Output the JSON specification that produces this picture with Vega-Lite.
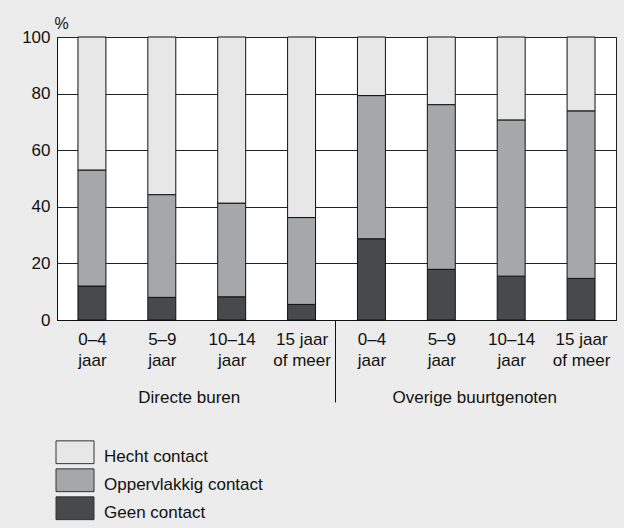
{
  "$schema": "https://vega.github.io/schema/vega-lite/v6.json",
  "width": 559,
  "height": 283,
  "autosize": "none",
  "padding": {"left": 57, "top": 37, "right": 8, "bottom": 208},
  "background": "#ebeceb",
  "config": {
    "font": "Liberation Sans",
    "view": {"fill": "white", "stroke": "#222", "strokeWidth": 1},
    "axis": {"labelFont": "Liberation Sans", "labelFontSize": 17, "labelColor": "#111", "titleFont": "Liberation Sans", "titleColor": "#111", "domainColor": "#111", "domainWidth": 1},
    "legend": {"labelFont": "Liberation Sans", "labelFontSize": 17, "labelColor": "#111"}
  },
  "layer": [
    {
      "data": {
        "values": [
          {"cat": "D|0–4|jaar", "type": "Geen contact", "value": 12},
          {"cat": "D|0–4|jaar", "type": "Oppervlakkig contact", "value": 41},
          {"cat": "D|0–4|jaar", "type": "Hecht contact", "value": 47},
          {"cat": "D|5–9|jaar", "type": "Geen contact", "value": 8},
          {"cat": "D|5–9|jaar", "type": "Oppervlakkig contact", "value": 36.3},
          {"cat": "D|5–9|jaar", "type": "Hecht contact", "value": 55.7},
          {"cat": "D|10–14|jaar", "type": "Geen contact", "value": 8.2},
          {"cat": "D|10–14|jaar", "type": "Oppervlakkig contact", "value": 33.1},
          {"cat": "D|10–14|jaar", "type": "Hecht contact", "value": 58.7},
          {"cat": "D|15 jaar|of meer", "type": "Geen contact", "value": 5.5},
          {"cat": "D|15 jaar|of meer", "type": "Oppervlakkig contact", "value": 30.7},
          {"cat": "D|15 jaar|of meer", "type": "Hecht contact", "value": 63.8},
          {"cat": "O|0–4|jaar", "type": "Geen contact", "value": 28.7},
          {"cat": "O|0–4|jaar", "type": "Oppervlakkig contact", "value": 50.6},
          {"cat": "O|0–4|jaar", "type": "Hecht contact", "value": 20.7},
          {"cat": "O|5–9|jaar", "type": "Geen contact", "value": 17.9},
          {"cat": "O|5–9|jaar", "type": "Oppervlakkig contact", "value": 58.2},
          {"cat": "O|5–9|jaar", "type": "Hecht contact", "value": 23.9},
          {"cat": "O|10–14|jaar", "type": "Geen contact", "value": 15.5},
          {"cat": "O|10–14|jaar", "type": "Oppervlakkig contact", "value": 55.2},
          {"cat": "O|10–14|jaar", "type": "Hecht contact", "value": 29.3},
          {"cat": "O|15 jaar|of meer", "type": "Geen contact", "value": 14.7},
          {"cat": "O|15 jaar|of meer", "type": "Oppervlakkig contact", "value": 59.2},
          {"cat": "O|15 jaar|of meer", "type": "Hecht contact", "value": 26.1}
        ]
      },
      "transform": [
        {"calculate": "indexof(['Geen contact','Oppervlakkig contact','Hecht contact'], datum.type)", "as": "stackorder"}
      ],
      "mark": {"type": "bar", "stroke": "#111", "strokeWidth": 1},
      "encoding": {
        "x": {
          "field": "cat", "type": "nominal", "sort": null,
          "scale": {"paddingInner": 0.6, "paddingOuter": 0.3},
          "axis": {
            "orient": "bottom", "title": null, "grid": false, "labelAngle": 0,
            "labelExpr": "slice(split(datum.value, '|'), 1)",
            "labelBaseline": "top", "labelLineHeight": 21.5, "labelPadding": -71,
            "ticks": true, "tickSize": 82, "tickColor": "#111", "tickWidth": 1,
            "tickOffset": -36, "labelOffset": 36,
            "tickOpacity": {"condition": {"test": "datum.value === 'O|0–4|jaar'", "value": 1}, "value": 0}
          }
        },
        "y": {
          "field": "value", "type": "quantitative", "stack": "zero",
          "scale": {"domain": [0, 100], "nice": false},
          "axis": {
            "values": [0, 20, 40, 60, 80, 100], "ticks": false, "labelPadding": 7,
            "gridColor": "#222", "gridWidth": 1, "gridOpacity": 1,
            "title": "%", "titleAngle": 0, "titleAlign": "center", "titleBaseline": "alphabetic",
            "titleX": 4, "titleY": -9, "titleFontSize": 16, "titleFontWeight": "normal"
          }
        },
        "color": {
          "field": "type", "type": "nominal",
          "scale": {"domain": ["Hecht contact", "Oppervlakkig contact", "Geen contact"], "range": ["#e7e7e8", "#a6a7a9", "#48494b"]},
          "legend": {
            "orient": "none", "legendX": 8, "legendY": 410, "title": null,
            "symbolType": "M-2,-1.7H2V0.7H-2Z", "symbolSize": 361,
            "symbolStrokeColor": "#333", "symbolStrokeWidth": 1, "symbolOpacity": 1,
            "labelOffset": 19, "rowPadding": 0
          }
        },
        "order": {"field": "stackorder", "type": "quantitative", "sort": "ascending"}
      }
    },
    {
      "data": {"values": [{"group": "Directe buren"}, {"group": "Overige buurtgenoten"}]},
      "mark": {"type": "point", "opacity": 0},
      "encoding": {
        "x": {
          "field": "group", "type": "nominal", "sort": null,
          "axis": {"orient": "bottom", "offset": 60, "domain": false, "ticks": false, "grid": false, "title": null, "labelAngle": 0, "labelBaseline": "top", "labelPadding": 9,
            "labelOffset": {"condition": {"test": "datum.value === 'Directe buren'", "value": -8}, "value": -2}}
        }
      }
    }
  ],
  "resolve": {"scale": {"x": "independent"}, "axis": {"x": "independent"}}
}
